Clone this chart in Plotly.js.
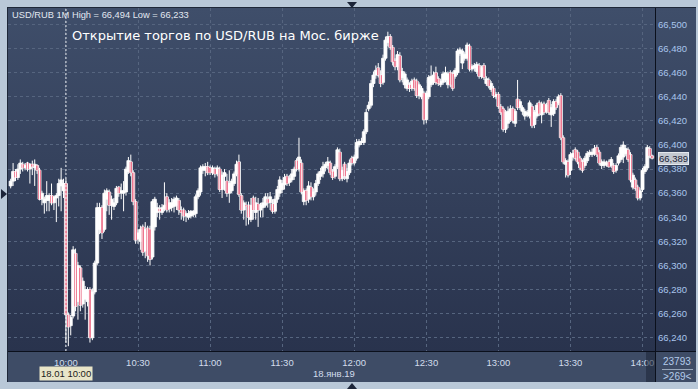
<!DOCTYPE html>
<html><head><meta charset="utf-8">
<script src="https://cdn.plot.ly/plotly-3.0.1.min.js"></script>
<style>
html,body{margin:0;padding:0;background:#b9c8d8;width:698px;height:389px;overflow:hidden;}
#bg{position:absolute;left:7px;top:7px;width:689px;height:344px;background:linear-gradient(#3f4e6a,#29334d);border-left:1px solid #1e2738;border-top:1px solid #1e2738;box-sizing:border-box;}
#bot{position:absolute;left:7px;top:351px;width:689px;height:31px;background:#3e4c66;border-left:1px solid #1e2738;box-sizing:border-box;}
#vline{position:absolute;left:655px;top:8px;width:1px;height:374px;background:#0b101c;}
#hline{position:absolute;left:8px;top:351px;width:688px;height:1px;background:#0b101c;}
#dk{position:absolute;left:646px;top:352px;width:9px;height:30px;background:rgba(28,36,54,0.55);}
#sep{position:absolute;left:662px;top:369px;width:31px;height:1px;background:#9aa8bc;}
#chart{position:absolute;left:0;top:0;width:698px;height:389px;}
.tri{position:absolute;width:0;height:0;}
#tTop{left:347px;top:2px;border-left:5px solid transparent;border-right:5px solid transparent;border-top:6px solid #1c2539;}
#tBot{left:347px;top:383px;border-left:5px solid transparent;border-right:5px solid transparent;border-bottom:6px solid #1c2539;}
#tLeft{left:1px;top:189px;border-top:5px solid transparent;border-bottom:5px solid transparent;border-left:6px solid #1c2539;}
</style></head>
<body>
<div id="bg"></div><div id="bot"></div>
<div id="chart"></div>
<div id="vline"></div><div id="hline"></div><div id="dk"></div><div id="sep"></div>
<div class="tri" id="tTop"></div><div class="tri" id="tBot"></div><div class="tri" id="tLeft"></div>
<script>
// 1-minute bars, USD/RUB, 18.01.2019, first bar 09:37
const startTime = '09:37';
const openP = [
66.366,66.370,66.378,66.373,66.380,66.384,66.381,66.385,66.380,66.384,
66.381,66.383,66.379,66.355,66.352,66.354,66.354,66.358,66.352,66.356,
66.358,66.366,66.362,66.368,66.259,66.250,66.258,66.310,66.270,66.298,
66.268,66.272,66.270,66.280,66.240,66.278,66.302,66.330,66.348,66.330,
66.355,66.361,66.350,66.349,66.352,66.365,66.360,66.360,66.361,66.378,
66.386,66.377,66.353,66.322,66.320,66.332,66.312,66.331,66.330,66.307,
66.332,66.344,66.347,66.344,66.347,66.357,66.347,66.348,66.349,66.350,
66.354,66.346,66.346,66.341,66.340,66.341,66.342,66.343,66.357,66.361,
66.379,66.379,66.382,66.381,66.377,66.380,66.376,66.380,66.363,66.374,
66.370,66.360,66.362,66.368,66.376,66.386,66.358,66.346,66.350,66.350,
66.338,66.356,66.344,66.351,66.346,66.348,66.350,66.355,66.352,66.351,
66.345,66.355,66.360,66.363,66.367,66.374,66.369,66.371,66.374,66.387,
66.380,66.385,66.353,66.362,66.355,66.365,66.357,66.361,66.368,66.374,
66.376,66.381,66.383,66.385,66.378,66.374,66.382,66.394,66.372,66.384,
66.372,66.377,66.389,66.385,66.389,66.400,66.402,66.402,66.411,66.430,
66.433,66.451,66.458,66.464,66.458,66.452,66.472,66.485,66.490,66.481,
66.470,66.465,66.474,66.456,66.450,66.447,66.450,66.447,66.454,66.453,
66.441,66.440,66.443,66.421,66.440,66.450,66.452,66.460,66.455,66.450,
66.452,66.454,66.450,66.460,66.459,66.457,66.460,66.476,66.468,66.472,
66.472,66.482,66.463,66.464,66.461,66.466,66.457,66.466,66.451,66.454,
66.446,66.447,66.440,66.442,66.432,66.430,66.413,66.418,66.421,66.430,
66.418,66.438,66.431,66.428,66.424,66.425,66.424,66.432,66.417,66.424,
66.435,66.425,66.434,66.428,66.437,66.425,66.426,66.436,66.435,66.441,
66.406,66.384,66.386,66.379,66.390,66.396,66.394,66.389,66.386,66.383,
66.387,66.392,66.392,66.393,66.398,66.394,66.383,66.383,66.384,66.386,
66.383,66.383,66.379,66.385,66.388,66.390,66.393,66.396,66.392,66.365,
66.371,66.365,66.356,66.363,66.378,66.381,66.397,66.391];
const highP = [
66.372,66.385,66.380,66.384,66.388,66.386,66.385,66.386,66.385,66.387,
66.388,66.384,66.381,66.362,66.357,66.370,66.360,66.368,66.358,66.360,
66.372,66.381,66.372,66.372,66.261,66.259,66.316,66.314,66.303,66.300,
66.290,66.283,66.282,66.282,66.281,66.304,66.352,66.352,66.350,66.363,
66.364,66.363,66.358,66.356,66.366,66.366,66.368,66.370,66.382,66.390,
66.392,66.379,66.355,66.330,66.333,66.334,66.336,66.333,66.333,66.355,
66.357,66.352,66.350,66.351,66.369,66.360,66.355,66.356,66.357,66.358,
66.356,66.349,66.348,66.345,66.346,66.346,66.346,66.359,66.364,66.383,
66.384,66.385,66.386,66.383,66.383,66.382,66.383,66.382,66.378,66.380,
66.376,66.379,66.372,66.378,66.387,66.392,66.360,66.354,66.353,66.353,
66.356,66.358,66.357,66.356,66.352,66.356,66.360,66.360,66.361,66.355,
66.358,66.366,66.374,66.371,66.376,66.376,66.375,66.380,66.382,66.389,
66.406,66.388,66.364,66.364,66.370,66.369,66.364,66.371,66.378,66.381,
66.386,66.386,66.390,66.387,66.380,66.384,66.398,66.397,66.382,66.386,
66.381,66.388,66.391,66.392,66.405,66.405,66.406,66.413,66.430,66.436,
66.454,66.461,66.466,66.468,66.462,66.475,66.490,66.494,66.492,66.483,
66.472,66.478,66.477,66.464,66.461,66.456,66.452,66.455,66.456,66.455,
66.452,66.449,66.445,66.445,66.458,66.466,66.461,66.465,66.457,66.455,
66.461,66.465,66.461,66.462,66.461,66.464,66.480,66.481,66.480,66.477,
66.485,66.484,66.467,66.468,66.469,66.468,66.466,66.468,66.457,66.456,
66.453,66.449,66.444,66.444,66.434,66.432,66.429,66.432,66.433,66.432,
66.430,66.454,66.438,66.433,66.430,66.429,66.437,66.434,66.429,66.435,
66.437,66.436,66.436,66.435,66.439,66.434,66.438,66.438,66.442,66.443,
66.408,66.389,66.388,66.394,66.396,66.398,66.396,66.391,66.388,66.391,
66.395,66.396,66.397,66.400,66.400,66.396,66.388,66.388,66.387,66.388,
66.390,66.385,66.385,66.393,66.400,66.403,66.400,66.398,66.394,66.377,
66.373,66.367,66.364,66.381,66.384,66.400,66.399,66.392];
const lowP = [
66.364,66.366,66.370,66.371,66.376,66.378,66.379,66.378,66.368,66.375,
66.366,66.376,66.354,66.350,66.343,66.345,66.345,66.350,66.346,66.336,
66.349,66.345,66.356,66.236,66.233,66.242,66.256,66.262,66.255,66.262,
66.265,66.255,66.266,66.236,66.238,66.276,66.300,66.326,66.322,66.328,
66.345,66.342,66.338,66.346,66.350,66.357,66.355,66.345,66.358,66.376,
66.374,66.350,66.318,66.318,66.313,66.308,66.306,66.303,66.300,66.305,
66.329,66.340,66.338,66.342,66.345,66.344,66.344,66.345,66.344,66.346,
66.342,66.338,66.337,66.336,66.338,66.339,66.340,66.340,66.355,66.358,
66.376,66.374,66.375,66.375,66.375,66.373,66.374,66.361,66.356,66.362,
66.357,66.352,66.360,66.366,66.374,66.357,66.343,66.338,66.333,66.334,
66.336,66.338,66.338,66.332,66.340,66.340,66.348,66.348,66.346,66.343,
66.343,66.352,66.357,66.360,66.363,66.366,66.366,66.369,66.371,66.378,
66.378,66.359,66.350,66.350,66.352,66.354,66.354,66.358,66.366,66.371,
66.373,66.378,66.380,66.375,66.371,66.372,66.380,66.370,66.370,66.371,
66.369,66.375,66.383,66.383,66.387,66.398,66.400,66.400,66.409,66.428,
66.431,66.448,66.455,66.456,66.448,66.450,66.470,66.482,66.479,66.466,
66.462,66.462,66.452,66.452,66.447,66.445,66.444,66.445,66.445,66.439,
66.438,66.438,66.417,66.418,66.438,66.448,66.450,66.450,66.449,66.448,
66.450,66.452,66.447,66.448,66.445,66.455,66.458,66.474,66.463,66.470,
66.470,66.461,66.461,66.461,66.459,66.455,66.455,66.454,66.449,66.447,
66.444,66.439,66.438,66.430,66.425,66.411,66.410,66.414,66.419,66.418,
66.415,66.429,66.429,66.425,66.421,66.423,66.422,66.414,66.414,66.422,
66.424,66.418,66.425,66.426,66.425,66.415,66.424,66.429,66.433,66.404,
66.384,66.373,66.373,66.375,66.387,66.387,66.384,66.379,66.377,66.381,
66.385,66.390,66.390,66.391,66.390,66.383,66.380,66.381,66.382,66.381,
66.381,66.376,66.377,66.383,66.386,66.385,66.391,66.386,66.369,66.363,
66.362,66.354,66.354,66.361,66.376,66.379,66.389,66.388];
const closeP = [
66.370,66.378,66.373,66.380,66.385,66.381,66.383,66.380,66.384,66.382,
66.384,66.379,66.355,66.360,66.355,66.358,66.358,66.352,66.357,66.358,
66.368,66.371,66.368,66.259,66.249,66.257,66.313,66.266,66.300,66.267,
66.287,66.280,66.280,66.240,66.278,66.302,66.348,66.348,66.327,66.360,
66.362,66.350,66.355,66.352,66.364,66.360,66.362,66.362,66.380,66.387,
66.377,66.353,66.321,66.327,66.330,66.311,66.330,66.308,66.305,66.353,
66.355,66.348,66.345,66.348,66.350,66.346,66.352,66.352,66.355,66.356,
66.346,66.344,66.341,66.343,66.343,66.345,66.345,66.357,66.362,66.381,
66.382,66.382,66.377,66.377,66.381,66.376,66.381,66.363,66.375,66.377,
66.360,66.368,66.370,66.376,66.384,66.359,66.346,66.352,66.349,66.340,
66.350,66.346,66.352,66.346,66.350,66.352,66.357,66.352,66.357,66.345,
66.355,66.363,66.371,66.368,66.373,66.368,66.372,66.376,66.380,66.380,
66.390,66.361,66.362,66.354,66.366,66.357,66.361,66.368,66.376,66.378,
66.382,66.384,66.386,66.377,66.373,66.382,66.396,66.372,66.379,66.374,
66.378,66.385,66.385,66.390,66.402,66.403,66.403,66.411,66.427,66.433,
66.451,66.458,66.462,66.458,66.451,66.472,66.487,66.490,66.481,66.469,
66.465,66.475,66.454,66.461,66.459,66.454,66.447,66.453,66.447,66.441,
66.450,66.447,66.421,66.443,66.456,66.457,66.458,66.452,66.451,66.453,
66.459,66.460,66.459,66.450,66.447,66.462,66.478,66.479,66.478,66.475,
66.483,66.463,66.465,66.466,66.467,66.457,66.464,66.456,66.455,66.449,
66.451,66.441,66.442,66.432,66.427,66.413,66.427,66.428,66.430,66.420,
66.428,66.431,66.436,66.431,66.428,66.427,66.435,66.416,66.427,66.433,
66.426,66.434,66.427,66.433,66.427,66.431,66.436,66.431,66.440,66.406,
66.386,66.387,66.375,66.392,66.393,66.389,66.386,66.381,66.379,66.389,
66.393,66.394,66.394,66.397,66.392,66.385,66.386,66.386,66.385,66.382,
66.388,66.378,66.383,66.391,66.398,66.400,66.397,66.388,66.371,66.375,
66.364,66.356,66.362,66.379,66.382,66.398,66.391,66.389];
const xTickTimes = ['10:00','10:30','11:00','11:30','12:00','12:30','13:00','13:30','14:00'];
const lastPriceLabel = '66,389';
const lastPrice = 66.389;
const barCount = '23793';
const barsShown = '>269<';

const day = '2019-01-18 ';
const pad = n => (n < 10 ? '0' : '') + n;
const [sh, sm] = startTime.split(':').map(Number);
const times = closeP.map((_, i) => { const m = sh*60 + sm + i; return day + pad(Math.floor(m/60)) + ':' + pad(m % 60); });

// wicks: one segment per bar, low to high
const wx = [], wy = [];
times.forEach((t, i) => { wx.push(t, t, null); wy.push(lowP[i], highP[i], null); });
// white outer body for every bar
const MIN_BODY = 0.0006;
const allBase = openP.map((o, i) => Math.min(o, closeP[i]));
const allH = openP.map((o, i) => Math.max(Math.abs(closeP[i] - o), MIN_BODY));
// red inner body for falling bars
const dnX = [], dnBase = [], dnH = [];
times.forEach((t, i) => {
  if (closeP[i] < openP[i]) { dnX.push(t); dnBase.push(closeP[i]); dnH.push(openP[i] - closeP[i]); }
});
const traces = [
  {type: 'scatter', mode: 'lines', x: wx, y: wy, line: {color: '#ffffff', width: 1}, hoverinfo: 'skip', connectgaps: false},
  {type: 'bar', x: times, base: allBase, y: allH, width: 76000,
   marker: {color: '#ffffff', line: {color: '#ffffff', width: 0.8}}, hoverinfo: 'skip'},
  {type: 'bar', x: dnX, base: dnBase, y: dnH, width: 50000,
   marker: {color: '#e00c38', line: {width: 0}}, hoverinfo: 'skip'}
];

const gridC = '#56657f';
const ypx = Y => (351 - Y) / 343;
const layout = {
  width: 698, height: 389,
  margin: {l: 8, r: 43, t: 8, b: 38, pad: 0},
  paper_bgcolor: 'rgba(0,0,0,0)', plot_bgcolor: 'rgba(0,0,0,0)',
  separators: ', ',
  showlegend: false,
  barmode: 'overlay',
  xaxis: {
    type: 'date', range: [day + '09:35:53', day + '14:05:12'],
    tickvals: xTickTimes.map(t => day + t), ticktext: xTickTimes,
    showgrid: true, gridcolor: gridC, griddash: '3px,3px', gridwidth: 1,
    ticks: '', showline: false, zeroline: false,
    tickfont: {family: 'Liberation Sans, Arial, sans-serif', size: 9.5, color: '#d2dcec'},
    ticklabelstandoff: 4
  },
  yaxis: {
    side: 'right', range: [66.229, 66.5137],
    tick0: 66.24, dtick: 0.02, tickformat: '.3f',
    showgrid: true, gridcolor: gridC, griddash: '3px,3px', gridwidth: 1,
    ticks: '', showline: false, zeroline: false,
    tickfont: {family: 'Liberation Sans, Arial, sans-serif', size: 9.5, color: '#a9c5ec'},
    ticklabelstandoff: 2
  },
  shapes: [
    {type: 'line', xref: 'x', yref: 'paper', x0: day + '10:00', x1: day + '10:00', y0: 0, y1: 1,
     line: {color: 'rgba(255,255,255,0.9)', width: 1, dash: '2px,2px'}, layer: 'above'}
  ],
  annotations: [
    {xref: 'paper', yref: 'paper', x: 0.003, y: ypx(15), xanchor: 'left', yanchor: 'middle', showarrow: false,
     text: 'USD/RUB 1M High = 66,494 Low = 66,233', font: {family: 'Liberation Sans, Arial, sans-serif', size: 9.3, color: '#e2e8f1'}},
    {xref: 'paper', yref: 'paper', x: (70 - 8) / 647, y: ypx(35), xanchor: 'left', yanchor: 'middle', showarrow: false,
     text: 'Открытие торгов по USD/RUB на Мос. бирже', font: {family: 'DejaVu Sans, sans-serif', size: 13, color: '#ffffff'}},
    {xref: 'x', yref: 'paper', x: day + '10:00', y: ypx(373.5), xanchor: 'center', yanchor: 'middle', showarrow: false,
     text: '18.01 10:00', bgcolor: '#e9e5c8', borderpad: 1,
     font: {family: 'Liberation Sans, Arial, sans-serif', size: 9.5, color: '#1b1b1b'}},
    {xref: 'paper', yref: 'paper', x: (334 - 8) / 647, y: ypx(373), xanchor: 'center', yanchor: 'middle', showarrow: false,
     text: '18.янв.19', font: {family: 'Liberation Sans, Arial, sans-serif', size: 9.5, color: '#d2dcec'}},
    {xref: 'paper', yref: 'y', x: (658 - 8) / 647, y: lastPrice, xanchor: 'left', yanchor: 'middle', showarrow: false,
     text: lastPriceLabel, bgcolor: '#c3c8d1', bordercolor: '#e4e8ee', borderwidth: 1, borderpad: 0,
     font: {family: 'Liberation Sans, Arial, sans-serif', size: 9.5, color: '#1a2236'}},
    {xref: 'paper', yref: 'paper', x: (677 - 8) / 647, y: ypx(361), xanchor: 'center', yanchor: 'middle', showarrow: false,
     text: barCount, font: {family: 'Liberation Sans, Arial, sans-serif', size: 10, color: '#b4cbea'}},
    {xref: 'paper', yref: 'paper', x: (677 - 8) / 647, y: ypx(377), xanchor: 'center', yanchor: 'middle', showarrow: false,
     text: barsShown, font: {family: 'Liberation Sans, Arial, sans-serif', size: 10, color: '#b4cbea'}}
  ]
};
Plotly.newPlot('chart', traces, layout, {staticPlot: true, displayModeBar: false});
</script>
</body></html>
